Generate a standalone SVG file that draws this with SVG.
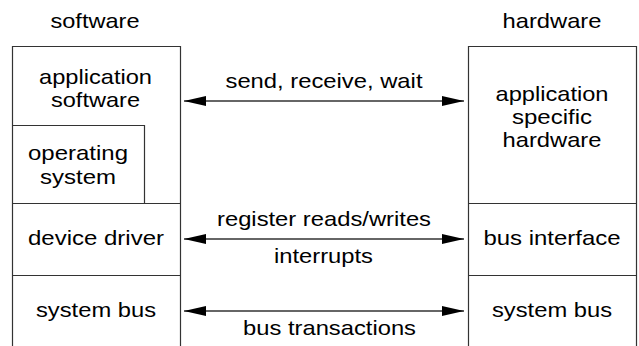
<svg xmlns="http://www.w3.org/2000/svg" width="639" height="346" viewBox="0 0 639 346">
<style>
text{font-family:"Liberation Sans",Arial,sans-serif;font-size:21px;fill:#000;text-anchor:middle}
.b{fill:none;stroke:#333;stroke-width:1.2}
.c{stroke:#333;stroke-width:1.4;fill:none}
</style>
<defs>
<marker id="ae" markerWidth="22" markerHeight="10" refX="22" refY="5" orient="auto" markerUnits="userSpaceOnUse"><path d="M0,0 L22,5 L0,10 Z" fill="#000"/></marker>
<marker id="as" markerWidth="22" markerHeight="10" refX="0" refY="5" orient="auto" markerUnits="userSpaceOnUse"><path d="M22,0 L0,5 L22,10 Z" fill="#000"/></marker>
</defs>
<rect width="639" height="346" fill="#fff"/>
<g id="title-software"><text x="95" y="28" textLength="89" lengthAdjust="spacingAndGlyphs">software</text></g>
<g id="title-hardware"><text x="552" y="28" textLength="99" lengthAdjust="spacingAndGlyphs">hardware</text></g>
<g id="sw-column"><path class="b" d="M12.5,346 V46.5 H180.5 V346"/></g>
<g id="app-software"><text x="95.5" y="84" textLength="113" lengthAdjust="spacingAndGlyphs">application</text><text x="95.5" y="106.5" textLength="89" lengthAdjust="spacingAndGlyphs">software</text></g>
<g id="operating-system"><path class="b" d="M12.5,125.5 H144.5 V203"/><text x="78" y="160" textLength="100" lengthAdjust="spacingAndGlyphs">operating</text><text x="78" y="183.5" textLength="76" lengthAdjust="spacingAndGlyphs">system</text></g>
<g id="device-driver"><path class="b" d="M12.5,203.5 H180.5"/><text x="96" y="245" textLength="136" lengthAdjust="spacingAndGlyphs">device driver</text></g>
<g id="sw-system-bus"><path class="b" d="M12.5,275.5 H180.5"/><text x="96" y="317" textLength="120" lengthAdjust="spacingAndGlyphs">system bus</text></g>
<g id="hw-column"><path class="b" d="M468.5,346 V46.5 H636.5 V346"/></g>
<g id="app-hardware"><text x="552" y="101" textLength="113" lengthAdjust="spacingAndGlyphs">application</text><text x="552" y="124.3" textLength="80" lengthAdjust="spacingAndGlyphs">specific</text><text x="552" y="147.3" textLength="99" lengthAdjust="spacingAndGlyphs">hardware</text></g>
<g id="bus-interface"><path class="b" d="M468.5,203.5 H636.5"/><text x="552" y="245" textLength="137" lengthAdjust="spacingAndGlyphs">bus interface</text></g>
<g id="hw-system-bus"><path class="b" d="M468.5,275.5 H636.5"/><text x="552" y="317" textLength="120" lengthAdjust="spacingAndGlyphs">system bus</text></g>
<g id="connectors">
<line class="c" x1="184" y1="101" x2="464" y2="101" marker-start="url(#as)" marker-end="url(#ae)"/>
<text x="324" y="88.3" textLength="197" lengthAdjust="spacingAndGlyphs">send, receive, wait</text>
<line class="c" x1="184" y1="239" x2="464" y2="239" marker-start="url(#as)" marker-end="url(#ae)"/>
<text x="324" y="226" textLength="214" lengthAdjust="spacingAndGlyphs">register reads/writes</text>
<text x="323.5" y="262.7" textLength="99" lengthAdjust="spacingAndGlyphs">interrupts</text>
<line class="c" x1="184" y1="311" x2="464" y2="311" marker-start="url(#as)" marker-end="url(#ae)"/>
<text x="329.5" y="335" textLength="173" lengthAdjust="spacingAndGlyphs">bus transactions</text>
</g>
</svg>
